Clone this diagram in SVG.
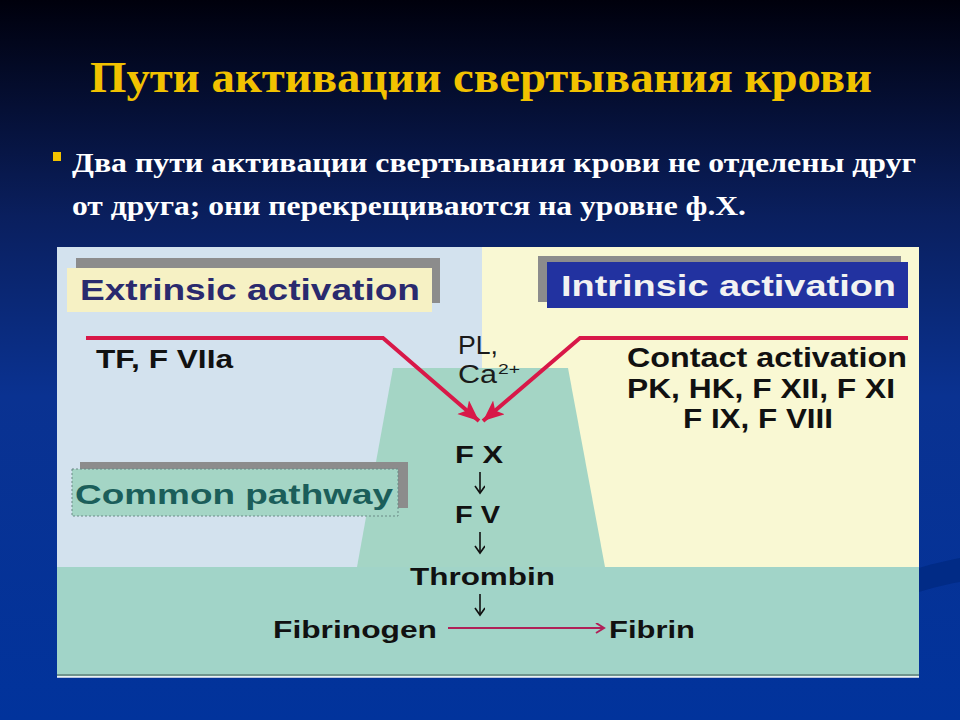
<svg xmlns="http://www.w3.org/2000/svg" width="960" height="720" viewBox="0 0 960 720">
<defs>
<linearGradient id="bg" x1="0" y1="0" x2="0" y2="1">
<stop offset="0" stop-color="#00000c"/>
<stop offset="0.3" stop-color="#0a1f5e"/>
<stop offset="0.55" stop-color="#0a3291"/>
<stop offset="1" stop-color="#01339c"/>
</linearGradient>
<marker id="redHead" markerUnits="userSpaceOnUse" markerWidth="24" markerHeight="20" refX="21" refY="9" orient="auto">
<path d="M0,0 L21,9 L0,18 L5,9 Z" fill="#d81848"/>
</marker>
<marker id="thinHead" markerUnits="userSpaceOnUse" markerWidth="12" markerHeight="12" refX="9" refY="5" orient="auto">
<path d="M1,0 L9,5 L1,10" fill="none" stroke="#b02058" stroke-width="2"/>
</marker>
<marker id="blackHead" markerUnits="userSpaceOnUse" markerWidth="12" markerHeight="12" refX="8" refY="5" orient="auto">
<path d="M1,0 L8,5 L1,10" fill="none" stroke="#111" stroke-width="1.6"/>
</marker>
<style>
.lbl{font-family:"Liberation Sans",Arial,sans-serif;font-weight:bold;fill:#111}
.reg{font-family:"Liberation Sans",Arial,sans-serif;font-weight:normal;fill:#1a1a1a}
.serif{font-family:"Liberation Serif","Times New Roman",serif}
.red{stroke:#d81848;stroke-width:4;fill:none;stroke-linejoin:miter}
.shadow{fill:#8c8c8c}
.dn{stroke:#111;stroke-width:1.6;fill:none}
</style>
</defs>
<rect x="0" y="0" width="960" height="720" fill="url(#bg)"/>
<path d="M919,568 C935,563 950,560 960,558 L960,582 C948,584 932,588 919,592 Z" fill="#012b86"/>

<!-- heading -->
<text x="90" y="92" class="serif" font-size="44" font-weight="bold" fill="#f2c200" textLength="782" lengthAdjust="spacingAndGlyphs">Пути активации свертывания крови</text>
<rect x="53" y="152" width="8" height="9" fill="#f2c200"/>
<text x="72" y="172" class="serif" font-size="27" font-weight="bold" fill="#ffffff" textLength="844" lengthAdjust="spacingAndGlyphs">Два пути активации свертывания крови не отделены друг</text>
<text x="72" y="215" class="serif" font-size="27" font-weight="bold" fill="#ffffff" textLength="674" lengthAdjust="spacingAndGlyphs">от друга; они перекрещиваются на уровне ф.Х.</text>

<!-- picture background -->
<g id="panel">
<rect x="57" y="247" width="862" height="430" fill="#d3e2ee"/>
<rect x="482" y="247" width="437" height="320" fill="#f9f8d3"/>
<polygon points="393,368 568,368 605,567 357,567" fill="#a4d5c5"/>
<rect x="57" y="567" width="862" height="109" fill="#a1d4c8"/>
<line x1="57" y1="675" x2="919" y2="675" stroke="#5f7f7a" stroke-width="1.5"/>
<line x1="57" y1="677" x2="919" y2="677" stroke="#f2f6f4" stroke-width="1.5"/>
</g>

<g id="extrinsic">
<rect class="shadow" x="76" y="258" width="364" height="45"/>
<rect x="67" y="268" width="365" height="44" fill="#f6f1c4"/>
<text x="80" y="300" class="lbl" font-size="29" style="fill:#2a2a6e" textLength="340" lengthAdjust="spacingAndGlyphs">Extrinsic activation</text>
</g>

<g id="intrinsic">
<rect class="shadow" x="538" y="256" width="363" height="46"/>
<rect x="547" y="262" width="361" height="46" fill="#2232a0"/>
<text x="561" y="296" class="lbl" font-size="30" style="fill:#f2f2f2" textLength="335" lengthAdjust="spacingAndGlyphs">Intrinsic activation</text>
</g>

<g id="common">
<rect class="shadow" x="80" y="462" width="328" height="46"/>
<rect x="72" y="469" width="326" height="47" fill="#a4d5c5" stroke="#6a8a86" stroke-width="1" stroke-dasharray="2,2"/>
<text x="75" y="504" class="lbl" font-size="28" style="fill:#1b5e5a" textLength="318" lengthAdjust="spacingAndGlyphs">Common pathway</text>
</g>

<g id="tf">
<text x="96" y="368" class="lbl" font-size="25" textLength="137" lengthAdjust="spacingAndGlyphs">TF, F VIIa</text>
</g>

<g id="plca">
<text x="458" y="354" class="reg" font-size="25" textLength="40" lengthAdjust="spacingAndGlyphs">PL,</text>
<text x="458" y="383" class="reg" font-size="25" textLength="39" lengthAdjust="spacingAndGlyphs">Ca</text>
<text x="498" y="374" class="reg" font-size="14" textLength="22" lengthAdjust="spacingAndGlyphs">2+</text>
</g>

<g id="contact">
<text x="627" y="367" class="lbl" font-size="27" textLength="280" lengthAdjust="spacingAndGlyphs">Contact activation</text>
<text x="627" y="398" class="lbl" font-size="27" textLength="268" lengthAdjust="spacingAndGlyphs">PK, HK, F XII, F XI</text>
<text x="683" y="428" class="lbl" font-size="27" textLength="150" lengthAdjust="spacingAndGlyphs">F IX, F VIII</text>
</g>

<g id="fx"><text x="455" y="463" class="lbl" font-size="23" textLength="48" lengthAdjust="spacingAndGlyphs">F X</text></g>
<g id="fv"><text x="455" y="523" class="lbl" font-size="23" textLength="45" lengthAdjust="spacingAndGlyphs">F V</text></g>
<g id="thrombin"><text x="410" y="585" class="lbl" font-size="23" textLength="145" lengthAdjust="spacingAndGlyphs">Thrombin</text></g>
<g id="fibrinogen"><text x="273" y="638" class="lbl" font-size="23" textLength="164" lengthAdjust="spacingAndGlyphs">Fibrinogen</text></g>
<g id="fibrin"><text x="609" y="638" class="lbl" font-size="23" textLength="86" lengthAdjust="spacingAndGlyphs">Fibrin</text></g>

<g id="connectors">
<polyline class="red" points="86,338 383,338 479,421" marker-end="url(#redHead)"/>
<polyline class="red" points="908,338 580,338 483,421" marker-end="url(#redHead)"/>
<line class="dn" x1="480" y1="472" x2="480" y2="493" marker-end="url(#blackHead)"/>
<line class="dn" x1="480" y1="532" x2="480" y2="553" marker-end="url(#blackHead)"/>
<line class="dn" x1="480" y1="594" x2="480" y2="615" marker-end="url(#blackHead)"/>
<line x1="448" y1="628" x2="604" y2="628" stroke="#b02058" stroke-width="2" marker-end="url(#thinHead)"/>
</g>
</svg>
